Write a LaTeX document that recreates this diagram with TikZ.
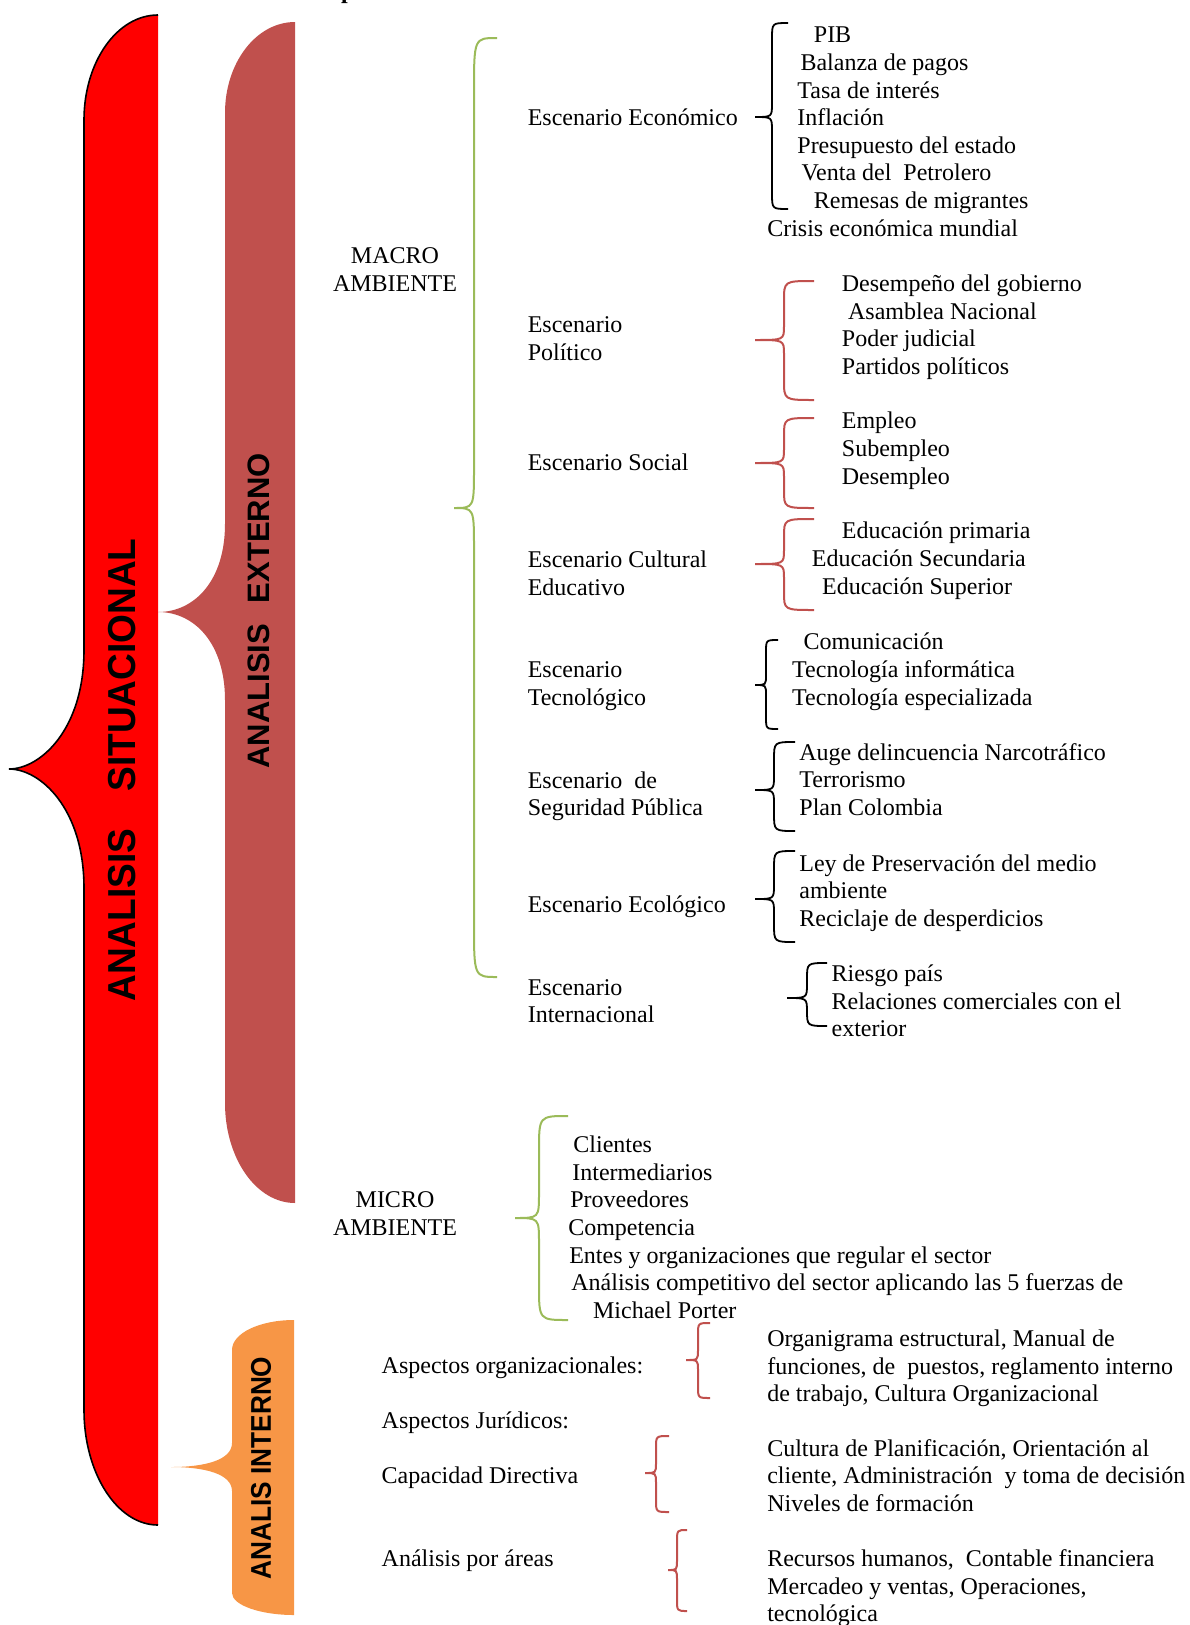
\documentclass[tikz,border=0pt]{standalone}
\usepackage{fontspec}
\setmainfont{Liberation Serif}
\newfontfamily\headfont{Liberation Sans}
\definecolor{sitred}{HTML}{FF0000}
\definecolor{extred}{HTML}{C0504D}
\definecolor{intorange}{HTML}{F79646}
\definecolor{macgreen}{HTML}{9BBB59}
\definecolor{bracered}{HTML}{C0504D}

% one text line, placed by the left end of its baseline
\newcommand\putline[4]{\node[txt] (#1) at (#2,#3) {#4};}
% left curly brace: style, x of hooks, x of stem, x of tip, y top, y tip, y bottom, hook radius, tip radius
\newcommand\curlyb[9]{%
  \draw[#1] (#2,#5) .. controls (#3,#5) .. (#3,#5+#8) -- (#3,#6-#9)
    .. controls (#3,#6) .. (#4,#6) .. controls (#3,#6) .. (#3,#6+#9)
    -- (#3,#7-#8) .. controls (#3,#7) .. (#2,#7);}

\begin{document}
\begin{tikzpicture}[x=1pt,y=-1pt,
  txt/.style={font=\fontsize{24}{27.6}\selectfont, inner sep=0pt, anchor=base west},
  ctxt/.style={txt, anchor=base},
  bigtitle/.style={rotate=90, inner sep=0pt, font=\headfont\bfseries},
  blackbrace/.style={draw=black, line width=1.8pt},
  redbrace/.style={draw=bracered, line width=2pt},
  greenbrace/.style={draw=macgreen, line width=2pt}]
\useasboundingbox (0,0) rectangle (1189,1625);

% ---- ANALISIS SITUACIONAL ----
\fill[sitred] (158,15) .. controls (117,15) and (84,62) .. (84,120) -- (84,650)
  .. controls (84,730) and (40,769) .. (9,769) .. controls (40,769) and (84,808) .. (84,888)
  -- (84,1410) .. controls (84,1473) and (117,1525) .. (158,1525) -- cycle;
\draw[black, line width=1.6pt] (158,15) .. controls (117,15) and (84,62) .. (84,120) -- (84,650)
  .. controls (84,730) and (40,769) .. (9,769) .. controls (40,769) and (84,808) .. (84,888)
  -- (84,1410) .. controls (84,1473) and (117,1525) .. (158,1525);
\node[bigtitle, font=\headfont\bfseries\fontsize{39}{39}\selectfont] (sit) at (122.5,770)
  {\scalebox{0.95}[1]{ANALISIS\hspace{1em}SITUACIONAL}};

% ---- ANALISIS EXTERNO ----
\fill[extred] (295,22) .. controls (256,22) and (225,63) .. (225,113) -- (225,524)
  .. controls (225,580) and (195,612) .. (158,612) .. controls (195,612) and (225,644) .. (225,700)
  -- (225,1103) .. controls (225,1158) and (256,1203) .. (295,1203) -- cycle;
\node[bigtitle, font=\headfont\bfseries\fontsize{31}{31}\selectfont] (ext) at (259,611)
  {ANALISIS\hspace{0.67em}EXTERNO};

% ---- ANALIS INTERNO ----
\fill[intorange] (294,1320) .. controls (260,1320) and (232,1333) .. (232,1350) -- (232,1443)
  .. controls (232,1460) and (205,1467) .. (171,1467) .. controls (205,1467) and (232,1474) .. (232,1491)
  -- (232,1593) .. controls (232,1605) and (260,1615) .. (294,1615) -- cycle;
\node[bigtitle, font=\headfont\bfseries\fontsize{28.5}{28.5}\selectfont] (int) at (261,1468)
  {\scalebox{0.92}[1]{ANALIS INTERNO}};

% heading above the chart
\node[txt, font=\bfseries\fontsize{24}{27.6}\selectfont] (head) at (341,-2) {p};

% ---- macro / micro ambiente ----
\node[ctxt] (macro1) at (395,263) {MACRO};
\node[ctxt] (macro2) at (395,291) {AMBIENTE};
\node[ctxt] (micro1) at (395,1207) {MICRO};
\node[ctxt] (micro2) at (395,1235) {AMBIENTE};

\curlyb{greenbrace}{497}{474}{454}{38}{508}{977}{55}{40}
\curlyb{greenbrace}{568}{539}{515}{1116}{1218}{1320}{35}{25}

% ---- escenarios ----
\putline{eco}{527.6}{125}{Escenario Económico}
\putline{pol1}{527.6}{332.5}{Escenario}
\putline{pol2}{527.6}{360.5}{Político}
\putline{soc}{527.6}{470.4}{Escenario Social}
\putline{cul1}{527.6}{567.8}{Escenario Cultural}
\putline{cul2}{527.6}{595.8}{Educativo}
\putline{tec1}{527.6}{677.7}{Escenario}
\putline{tec2}{527.6}{705.7}{Tecnológico}
\putline{seg1}{527.6}{788.6}{Escenario~~de}
\putline{seg2}{527.6}{815.5}{Seguridad Pública}
\putline{ecol}{527.6}{912}{Escenario Ecológico}
\putline{int1}{527.6}{995.9}{Escenario}
\putline{int2}{527.6}{1022.9}{Internacional}

% económico
\curlyb{blackbrace}{788}{772}{755}{23}{117}{209}{16}{14}
\putline{e1}{813.7}{42.2}{PIB}
\putline{e2}{800.3}{70.2}{Balanza de pagos}
\putline{e3}{797.2}{98.2}{Tasa de interés}
\putline{e4}{797.2}{125.2}{Inflación}
\putline{e5}{797.2}{153.2}{Presupuesto del estado}
\putline{e6}{801.3}{180.1}{Venta del~~Petrolero}
\putline{e7}{813.7}{208.1}{Remesas de migrantes}
\putline{e8}{767.1}{236.1}{Crisis económica mundial}

% político
\curlyb{redbrace}{814}{784}{755}{281}{340}{400}{20}{14}
\putline{p1}{841.7}{291}{Desempeño del gobierno}
\putline{p2}{847.9}{319}{Asamblea Nacional}
\putline{p3}{841.7}{346}{Poder judicial}
\putline{p4}{841.7}{374}{Partidos políticos}

% social
\curlyb{redbrace}{814}{784}{755}{418}{463}{508}{18}{14}
\putline{s1}{841.7}{428.9}{Empleo}
\putline{s2}{841.7}{456.9}{Subempleo}
\putline{s3}{841.7}{484.9}{Desempleo}

% cultural educativo
\curlyb{redbrace}{814}{784}{755}{519}{564}{610}{18}{14}
\putline{c1}{841.7}{538.8}{Educación primaria}
\putline{c2}{811.7}{566.8}{Educación Secundaria}
\putline{c3}{822}{594.8}{Educación Superior}

% tecnológico
\curlyb{blackbrace}{778}{766}{755}{640}{685}{729}{12}{10}
\putline{t1}{803.4}{649.7}{Comunicación}
\putline{t2}{792}{677.7}{Tecnología informática}
\putline{t3}{792}{705.7}{Tecnología especializada}

% seguridad pública
\curlyb{blackbrace}{795}{774}{755}{742}{790}{831}{18}{14}
\putline{g1}{799.2}{760.6}{Auge delincuencia Narcotráfico}
\putline{g2}{799.2}{787.6}{Terrorismo}
\putline{g3}{799.2}{815.5}{Plan Colombia}

% ecológico
\curlyb{blackbrace}{795}{774}{755}{851}{899}{942}{18}{14}
\putline{l1}{799.2}{871.5}{Ley de Preservación del medio}
\putline{l2}{799.2}{898.5}{ambiente}
\putline{l3}{799.2}{926.5}{Reciclaje de desperdicios}

% internacional
\curlyb{blackbrace}{827}{807}{787}{963}{998}{1026}{16}{14}
\putline{n1}{831.4}{981.4}{Riesgo país}
\putline{n2}{831.4}{1009.4}{Relaciones comerciales con el}
\putline{n3}{831.4}{1036.3}{exterior}

% micro ambiente
\putline{m1}{573.2}{1152.4}{Clientes}
\putline{m2}{572.2}{1180.4}{Intermediarios}
\putline{m3}{570.1}{1207.4}{Proveedores}
\putline{m4}{568.1}{1235.4}{Competencia}
\putline{m5}{569.1}{1263.4}{Entes y organizaciones que regular el sector}
\putline{m6}{571.2}{1290.3}{Análisis competitivo del sector aplicando las 5 fuerzas de}
\putline{m7}{592.9}{1318.3}{Michael Porter}

% ---- análisis interno ----
\putline{a1}{381.5}{1373.2}{Aspectos organizacionales:}
\putline{a2}{381.5}{1428.2}{Aspectos Jurídicos:}
\putline{a3}{381.5}{1483.1}{Capacidad Directiva}
\putline{a4}{381.5}{1566}{Análisis por áreas}

\curlyb{redbrace}{710}{698}{686}{1323}{1360}{1398}{12}{10}
\putline{o1}{767.1}{1346.3}{Organigrama estructural, Manual de}
\putline{o2}{767.1}{1374.3}{funciones, de~~puestos, reglamento interno}
\putline{o3}{767.1}{1401.2}{de trabajo, Cultura Organizacional}

\curlyb{redbrace}{669}{656}{645}{1436}{1473}{1512}{12}{10}
\putline{d1}{767.1}{1456.2}{Cultura de Planificación, Orientación al}
\putline{d2}{767.1}{1483.1}{cliente, Administración~~y toma de decisión}
\putline{d3}{767.1}{1511.1}{Niveles de formación}

\curlyb{redbrace}{687}{677}{668}{1530}{1570}{1611}{12}{10}
\putline{r1}{767.1}{1566}{Recursos humanos,~~Contable financiera}
\putline{r2}{767.1}{1594}{Mercadeo y ventas, Operaciones,}
\putline{r3}{767.1}{1621}{tecnológica}
\end{tikzpicture}
\end{document}
